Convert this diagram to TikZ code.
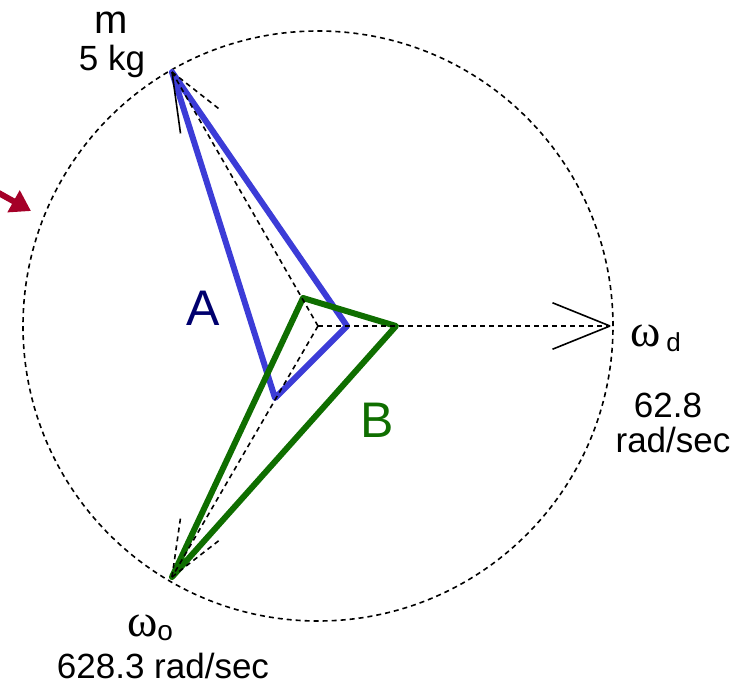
\documentclass[tikz,border=0pt]{standalone}
\usepackage{fontspec}
\setmainfont{Liberation Sans}
\newfontfamily\grk{Liberation Serif}
\usetikzlibrary{arrows.meta,calc}
\definecolor{vecblue}{RGB}{60,60,215}
\definecolor{vecgreen}{RGB}{15,110,0}
\definecolor{navyA}{RGB}{0,0,110}
\definecolor{forcered}{RGB}{165,0,40}

\begin{document}
\begin{tikzpicture}[x=1pt,y=-1pt,
dsh/.style={black,line width=1.6pt,dash pattern=on 5pt off 4pt},
barb/.style={black,line width=1.6pt},
tri/.style={line width=6pt,line join=round},
lbl/.style={inner sep=0pt,anchor=base,font=\fontsize{35}{41}\selectfont},
big/.style={lbl,font=\fontsize{50}{56}\selectfont}]
\useasboundingbox (0,0) rectangle (755,686);
% centre and phasor tips
\coordinate (c) at (318,326);
\coordinate (td) at (610,326);
\coordinate (tm) at (172,72);
\coordinate (to) at (172,577);
% incoming force arrow
\coordinate (f0) at (-12,187);
\coordinate (f1) at (31,211);
\draw[forcered,line width=6pt,-{Triangle[length=20pt,width=24pt]}] (f0) -- (f1);
% disc
\draw[dsh] (c) circle[radius=295pt];
% triangle A
\coordinate (a1) at (347,326);
\coordinate (a2) at (275,398);
\draw[vecblue,tri] (tm) -- (a1) -- (a2) -- cycle;
% triangle B
\coordinate (b1) at (303,298);
\coordinate (b2) at (396,326);
\draw[vecgreen,tri] (b1) -- (b2) -- (to) -- cycle;
% phasors
\draw[dsh] (c) -- (td);
\draw[dsh] (c) -- (tm);
\draw[dsh] (c) -- (to);
\draw[barb] (td) -- ($(td)!62pt!22:(c)$);
\draw[barb] (td) -- ($(td)!62pt!-22:(c)$);
\draw[dsh] (tm) -- ($(tm)!62pt!22:(c)$);
\draw[barb] (tm) -- ($(tm)!62pt!-22:(c)$);
\draw[dsh] (to) -- ($(to)!62pt!22:(c)$);
\draw[dsh] (to) -- ($(to)!62pt!-22:(c)$);
% labels
\node[lbl,font=\fontsize{40}{46}\selectfont] (mtop) at (111,33) {m};
\node[lbl] (mkg) at (112,70) {5 kg};
\node[big,navyA] (lblA) at (203,325) {A};
\node[big,vecgreen] (lblB) at (377,437) {B};
\node[lbl,anchor=base west] (omd) at (630,346) {{\grk\fontsize{46}{50}\selectfont ω}\,\raisebox{-5pt}{\fontsize{26}{30}\selectfont d}};
\node[lbl] (rd) at (668,417) {62.8};
\node[lbl] (rdu) at (673,452) {rad/sec};
\node[lbl,anchor=base west] (omo) at (127,636) {{\grk\fontsize{46}{50}\selectfont ω}\raisebox{-4pt}{\fontsize{28}{32}\selectfont o}};
\node[lbl] (ro) at (163,678) {628.3 rad/sec};
\end{tikzpicture}
\end{document}
